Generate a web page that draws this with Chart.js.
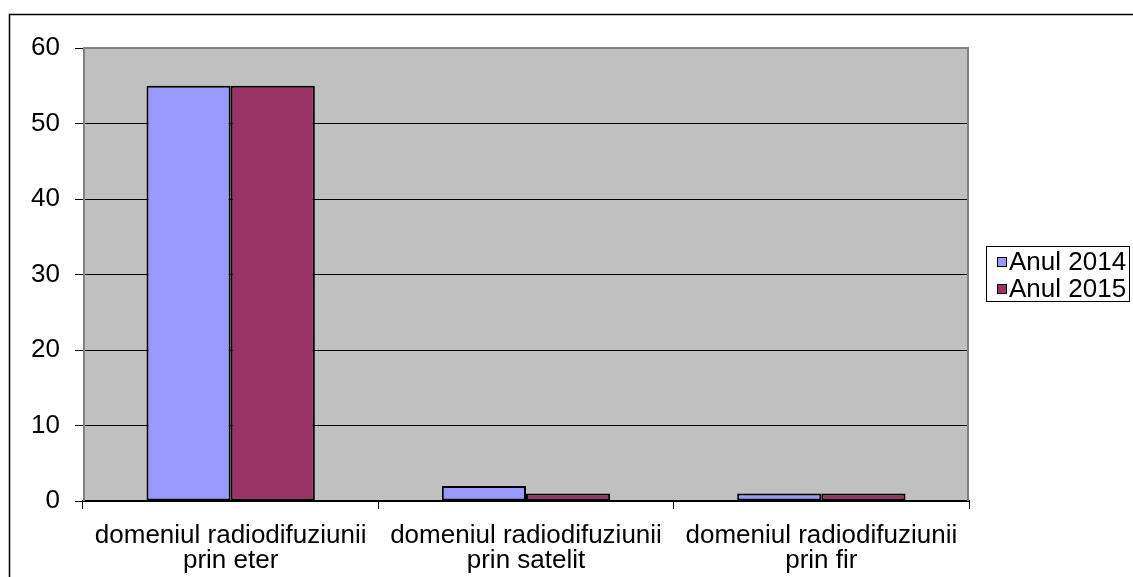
<!DOCTYPE html>
<html>
<head>
<meta charset="utf-8">
<script src="https://cdn.jsdelivr.net/npm/chart.js@4"></script>
<style>
  body { margin: 0; background: #fff; }
  canvas { display: block; }
</style>
</head>
<body>
<canvas id="myChart" width="1133" height="577"></canvas>
<script>
const categories = [
  ['domeniul radiodifuziunii', 'prin eter'],
  ['domeniul radiodifuziunii', 'prin satelit'],
  ['domeniul radiodifuziunii', 'prin fir']
];
const seriesNames = ['Anul 2014', 'Anul 2015'];
const values2014 = [55, 2, 1];
const values2015 = [55, 1, 1];
const yTicks = [0, 10, 20, 30, 40, 50, 60];
const colors = ['#9999ff', '#993366'];

const FONT = 'Arial, "Liberation Sans", sans-serif';

// background, outer frame, plot borders and the boxed legend
const frame = {
  id: 'frame',
  beforeDraw(chart) {
    const c = chart.ctx, a = chart.chartArea;
    c.save();
    c.fillStyle = '#fff';
    c.fillRect(0, 0, chart.width, chart.height);
    c.strokeStyle = '#000';
    c.lineWidth = 1.5;
    c.strokeRect(9.5, 14.5, 1300, 700);
    c.fillStyle = '#c0c0c0';
    c.fillRect(a.left, a.top, a.right - a.left, a.bottom - a.top);
    c.restore();
  },
  beforeDatasetsDraw(chart) {
    const c = chart.ctx, a = chart.chartArea;
    c.save();
    c.strokeStyle = '#808080';
    c.lineWidth = 2;
    c.beginPath();
    c.moveTo(a.left + 1, a.bottom);
    c.lineTo(a.left + 1, a.top);
    c.lineTo(a.right - 1, a.top);
    c.lineTo(a.right - 1, a.bottom);
    c.stroke();
    c.restore();
  },
  afterDraw(chart) {
    const c = chart.ctx;
    c.save();
    c.strokeStyle = '#000';
    c.lineWidth = 1;
    c.strokeRect(986.5, 246.5, 143, 55);
    c.font = '26px ' + FONT;
    c.textBaseline = 'middle';
    chart.data.datasets.forEach((ds, i) => {
      const y = 262 + i * 27;
      c.fillStyle = ds.backgroundColor;
      c.fillRect(997, y - 5, 10, 10);
      c.strokeRect(997.5, y - 4.5, 9, 9);
      c.fillStyle = '#000';
      c.fillText(ds.label, 1009, y + 1);
    });
    c.restore();
  }
};

new Chart(document.getElementById('myChart'), {
  type: 'bar',
  data: {
    labels: categories,
    datasets: [
      { label: seriesNames[0], data: values2014, backgroundColor: colors[0] },
      { label: seriesNames[1], data: values2015, backgroundColor: colors[1] }
    ]
  },
  options: {
    responsive: false,
    animation: false,
    layout: { padding: { top: 48, right: 164, left: 10, bottom: 0 } },
    datasets: {
      bar: {
        borderColor: '#000',
        borderWidth: 2,
        borderSkipped: false,
        categoryPercentage: 0.57,
        barPercentage: 1
      }
    },
    plugins: {
      legend: { display: false },
      tooltip: { enabled: false }
    },
    scales: {
      x: {
        afterFit: s => { s.height = 76; },
        grid: { offset: true, drawOnChartArea: false, color: '#000', tickLength: 8 },
        border: { color: '#000', width: 2 },
        ticks: {
          color: '#000',
          font: { family: FONT, size: 26, lineHeight: '25px' },
          padding: 14,
          maxRotation: 0,
          autoSkip: false
        }
      },
      y: {
        min: 0,
        max: 60,
        afterFit: s => { s.width = 73; },
        afterBuildTicks: s => { s.ticks = yTicks.map(v => ({ value: v })); },
        grid: {
          color: ctx => ctx.tick && ctx.tick.value === 60 ? '#808080' : '#000',
          lineWidth: 1,
          tickLength: 8,
          tickColor: '#000'
        },
        border: { display: false },
        ticks: {
          color: '#000',
          font: { family: FONT, size: 26 },
          padding: 15
        }
      }
    }
  },
  plugins: [frame]
});
</script>
</body>
</html>
